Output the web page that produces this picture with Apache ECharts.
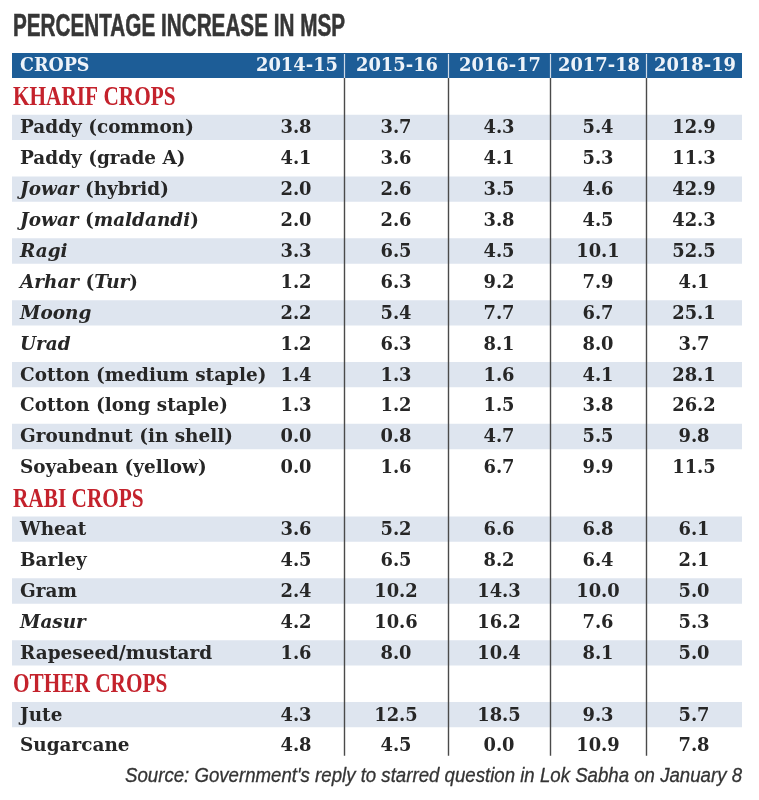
<!DOCTYPE html>
<html>
<head>
<meta charset="utf-8">
<script src="https://cdn.jsdelivr.net/npm/echarts@6/dist/echarts.min.js"></script>
<style>html,body{margin:0;padding:0;background:#fff;}#chart{width:759px;height:800px;}</style>
</head>
<body>
<div id="chart"></div>
<script>
// ---------- data ----------
const titleText = 'PERCENTAGE INCREASE IN MSP';
const sourceText = "Source: Government's reply to starred question in Lok Sabha on January 8";
const firstHeader = 'CROPS';
const years = ['2014-15', '2015-16', '2016-17', '2017-18', '2018-19'];
const sections = ['KHARIF CROPS', 'RABI CROPS', 'OTHER CROPS'];
const kharifCrops = ['Paddy (common)', 'Paddy (grade A)', '{i|Jowar} (hybrid)', '{i|Jowar} ({i|maldandi})', '{i|Ragi}', '{i|Arhar} ({i|Tur})', '{i|Moong}', '{i|Urad}', 'Cotton (medium staple)', 'Cotton (long staple)', 'Groundnut (in shell)', 'Soyabean (yellow)'];
const rabiCrops = ['Wheat', 'Barley', 'Gram', '{i|Masur}', 'Rapeseed/mustard'];
const otherCrops = ['Jute', 'Sugarcane'];
// values in crop order: kharif (12), rabi (5), other (2)
const msp2014_15 = [3.8, 4.1, 2.0, 2.0, 3.3, 1.2, 2.2, 1.2, 1.4, 1.3, 0.0, 0.0, 3.6, 4.5, 2.4, 4.2, 1.6, 4.3, 4.8];
const msp2015_16 = [3.7, 3.6, 2.6, 2.6, 6.5, 6.3, 5.4, 6.3, 1.3, 1.2, 0.8, 1.6, 5.2, 6.5, 10.2, 10.6, 8.0, 12.5, 4.5];
const msp2016_17 = [4.3, 4.1, 3.5, 3.8, 4.5, 9.2, 7.7, 8.1, 1.6, 1.5, 4.7, 6.7, 6.6, 8.2, 14.3, 16.2, 10.4, 18.5, 0.0];
const msp2017_18 = [5.4, 5.3, 4.6, 4.5, 10.1, 7.9, 6.7, 8.0, 4.1, 3.8, 5.5, 9.9, 6.8, 6.4, 10.0, 7.6, 8.1, 9.3, 10.9];
const msp2018_19 = [12.9, 11.3, 42.9, 42.3, 52.5, 4.1, 25.1, 3.7, 28.1, 26.2, 9.8, 11.5, 6.1, 2.1, 5.0, 5.3, 5.0, 5.7, 7.8];

// ---------- layout (not data) ----------
const colEdges = [0, 332, 436, 538, 634, 730];       // in table units along x axis
const valueCenters = [284, 384, 487, 586, 682];
const nameX = 8, sectionX = 1;
const BLUE = '#1d5d97', STRIPE = '#dee5ef', RED = '#c4222c', INK = '#262626';

const valueCols = [msp2014_15, msp2015_16, msp2016_17, msp2017_18, msp2018_19];
const groups = [kharifCrops, rabiCrops, otherCrops];
const rows = [];
let ci = 0;
groups.forEach((g, gi) => {
  rows.push({ kind: 'section', label: sections[gi] });
  g.forEach((name, k) => {
    rows.push({ kind: 'crop', label: name, shade: k % 2 === 0, vals: valueCols.map(c => c[ci]) });
    ci++;
  });
});
const lastRow = rows.length - 1;

const measureCtx = document.createElement('canvas').getContext('2d');
function textWidth(t, font) { measureCtx.font = font; return measureCtx.measureText(t).width; }

const chart = echarts.init(document.getElementById('chart'), null, { renderer: 'canvas' });

const nameFont = 'bold 19px "DejaVu Serif"';
const italicFont = 'italic bold 19px "DejaVu Serif"';
const valueFont = 'bold 19px "DejaVu Serif"';
const sectionFont = 'bold 28px "Liberation Serif"';
const headerFont = 'bold 19px "DejaVu Serif"';

function rowData() { return rows.map((r, i) => [0, i]); }

const titleFont = 'bold 31px "Liberation Sans"';
const titleScale = 332 / textWidth(titleText, titleFont);
const srcFont = 'italic 20px "Liberation Sans"';
const srcScale = 617 / textWidth(sourceText, srcFont);

const option = {
  animation: false,
  backgroundColor: '#ffffff',
  grid: { left: 12, right: 17, top: 81, height: 680 },
  xAxis: { type: 'value', min: 0, max: 730, show: false },
  yAxis: { type: 'category', data: rows.map(r => r.label), inverse: true, show: false },
  graphic: [
    { type: 'text', x: 13, y: 27, scaleX: titleScale, style: { text: titleText, font: titleFont, fill: '#363636', stroke: '#363636', lineWidth: 0.6, align: 'left', verticalAlign: 'middle' } },
    { type: 'text', x: 742, y: 776, scaleX: srcScale, style: { text: sourceText, font: srcFont, fill: '#333', stroke: '#333', lineWidth: 0.3, align: 'right', verticalAlign: 'middle' } }
  ],
  series: [
    { // stripes
      type: 'custom', z: 1, silent: true,
      data: rowData(), encode: { x: 0, y: 1 },
      renderItem: function (params, api) {
        const i = api.value(1);
        const r = rows[i];
        if (r.kind !== 'crop' || !r.shade) return { type: 'group', children: [] };
        const p0 = api.coord([0, i]);
        const p1 = api.coord([730, i]);
        const h = api.size([0, 1])[1];
        const sh = h * 0.82;
        return { type: 'rect', shape: { x: p0[0], y: p0[1] - sh / 2, width: p1[0] - p0[0], height: sh }, style: { fill: STRIPE } };
      }
    },
    { // header bar and column dividers
      type: 'custom', z: 2, silent: true,
      data: [[0, 0]], encode: { x: 0, y: 1 },
      renderItem: function (params, api) {
        const cs = params.coordSys;
        const h = api.size([0, 1])[1];
        const top = cs.y - 28, hh = 25;
        const bottom = api.coord([0, lastRow])[1] + h * 0.33;
        const children = [{ type: 'rect', shape: { x: cs.x, y: top, width: cs.width, height: hh }, style: { fill: BLUE } }];
        for (let k = 1; k < colEdges.length - 1; k++) {
          const x = Math.round(api.coord([colEdges[k], 0])[0]) + 0.5;
          children.push({ type: 'line', shape: { x1: x, y1: top + 1, x2: x, y2: top + hh }, style: { stroke: '#cfdbe8', lineWidth: 1.2 } });
          children.push({ type: 'line', shape: { x1: x, y1: top + hh, x2: x, y2: bottom }, style: { stroke: '#4a4a4a', lineWidth: 1.4 } });
        }
        children.push({ type: 'text', x: cs.x + 8, y: top + hh / 2 + 1, scaleX: 0.92, style: { text: firstHeader, font: headerFont, fill: '#eef3f9', align: 'left', verticalAlign: 'middle' } });
        years.forEach((yr, k) => {
          children.push({ type: 'text', x: api.coord([valueCenters[k], 0])[0] + 1, y: top + hh / 2 + 1, scaleX: 0.94, style: { text: yr, font: headerFont, fill: '#eef3f9', align: 'center', verticalAlign: 'middle' } });
        });
        return { type: 'group', children: children };
      }
    },
    { // cell texts
      type: 'custom', z: 3, silent: true,
      data: rowData(), encode: { x: 0, y: 1 },
      renderItem: function (params, api) {
        const i = api.value(1);
        const r = rows[i];
        const yc = api.coord([0, i])[1];
        if (r.kind === 'section') {
          return { type: 'text', x: api.coord([sectionX, i])[0], y: yc + 1, scaleX: 0.76,
            style: { text: r.label, font: sectionFont, fill: RED, align: 'left', verticalAlign: 'middle' } };
        }
        const children = [{ type: 'text', x: api.coord([nameX, i])[0], y: yc + 1, scaleX: 0.97,
          style: { text: r.label, font: nameFont, fill: INK, align: 'left', verticalAlign: 'middle',
            rich: { i: { font: italicFont, fill: INK } } } }];
        r.vals.forEach((v, k) => {
          children.push({ type: 'text', x: api.coord([valueCenters[k], i])[0], y: yc + 1, scaleX: 0.94,
            style: { text: v.toFixed(1), font: valueFont, fill: INK, align: 'center', verticalAlign: 'middle' } });
        });
        return { type: 'group', children: children };
      }
    }
  ]
};
chart.setOption(option);
</script>
</body>
</html>
